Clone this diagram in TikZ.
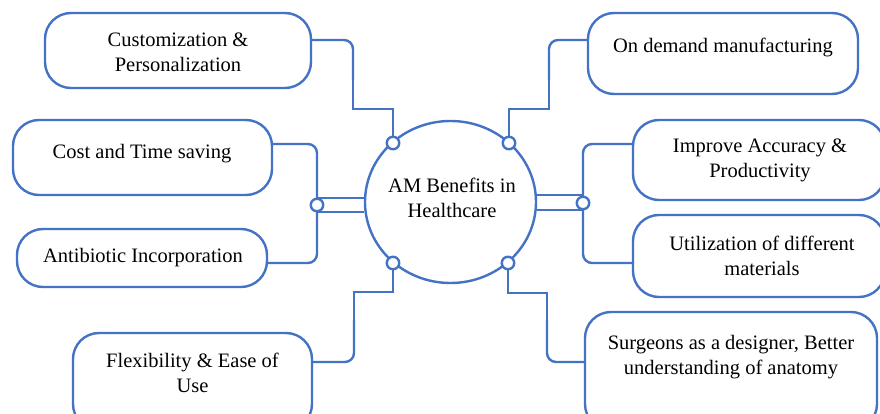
\documentclass[tikz,border=0pt]{standalone}
\usepackage{fontspec}
\setmainfont{Liberation Serif}
\usetikzlibrary{shapes.geometric}
\definecolor{amblue}{HTML}{4472C4}
\begin{document}
\begin{tikzpicture}[x=1pt,y=-1pt,
  line/.style={draw=amblue,line width=2.4pt},
  boxnode/.style={draw=amblue,line width=2.4pt,rounded corners=26pt,fill=white,inner sep=0pt},
  txt/.style={font=\fontsize{20.5}{25}\selectfont,align=center,inner sep=0pt,text=black,yshift=-2.5pt},
  dot/.style={circle,draw=amblue,line width=2.4pt,fill=white,minimum size=12.5pt,inner sep=0pt},
  conn/.style={draw=amblue,line width=2.4pt,rounded corners=9pt}]
\useasboundingbox (0,0) rectangle (880,414);
\clip (0,0) rectangle (880,414);
\fill[white] (0,0) rectangle (880,414);

% boxes
\node[boxnode,minimum width=266pt,minimum height=75pt] (b1) at (178,50.5) {};
\node[boxnode,minimum width=259pt,minimum height=75pt] (b2) at (142.5,157.5) {};
\node[boxnode,minimum width=250pt,minimum height=58pt] (b3) at (142,258) {};
\node[boxnode,minimum width=239pt,minimum height=97pt] (b4) at (192.5,381.5) {};
\node[boxnode,minimum width=270pt,minimum height=81pt] (b5) at (723,53.5) {};
\node[boxnode,minimum width=252pt,minimum height=80pt] (b6) at (759,160) {};
\node[boxnode,minimum width=252pt,minimum height=82pt] (b7) at (759,256) {};
\node[boxnode,minimum width=292pt,minimum height=118pt] (b8) at (731,371) {};

% texts
\node[txt] (t1) at (178,49.5) {Customization \&\\Personalization};
\node[txt] (t2) at (142,151) {Cost and Time saving};
\node[txt] (t3) at (143,255) {Antibiotic Incorporation};
\node[txt] (t4) at (192.5,370.5) {Flexibility \& Ease of\\Use};
\node[txt] (t5) at (723,45) {On demand manufacturing};
\node[txt] (t6) at (760,157.5) {Improve Accuracy \&\\Productivity};
\node[txt] (t7) at (762,253.5) {Utilization of different\\materials};
\node[txt] (t8) at (731,354.5) {Surgeons as a designer, Better\\understanding of anatomy};

% central ellipse
\node[ellipse,draw=amblue,line width=2.4pt,minimum width=171pt,minimum height=162pt,inner sep=0pt] (c) at (450.5,202) {};
\node[txt] (ct) at (452,195.5) {AM Benefits in\\Healthcare};

% bars
\coordinate (lt) at (317,198);
\coordinate (lb) at (317,212);
\coordinate (rt) at (583,195);
\coordinate (rb) at (583,210);
\draw[line] (lt) -- (c.west |- lt);
\draw[line] (lb) -- (c.west |- lb);
\draw[line] (rt) -- (c.east |- rt);
\draw[line] (rb) -- (c.east |- rb);

% connectors
\coordinate (s1p) at (393,143);
\coordinate (s2p) at (393,263);
\coordinate (s3p) at (317,205);
\coordinate (s5p) at (509,143);
\coordinate (s6p) at (583,203);
\coordinate (s7p) at (508,263);
\draw[conn] (b1.east |- 0,40) -- (353,40) -- (353,80);
\draw[line] (353,78) -- (353,109) -- (393,109) -- (s1p);
\draw[conn] (b2.east |- 0,144) -- (317,144) -- (s3p);
\draw[conn] (b3.east |- 0,263) -- (317,263) -- (s3p);
\draw[conn] (b4.east |- 0,362) -- (354,362) -- (354,320);
\draw[line] (354,322) -- (354,292) -- (393,292) -- (s2p);
\draw[conn] (b5.west |- 0,40) -- (549,40) -- (549,80);
\draw[line] (549,78) -- (549,109) -- (509,109) -- (s5p);
\draw[conn] (b6.west |- 0,144) -- (583,144) -- (s6p);
\draw[conn] (b7.west |- 0,263) -- (583,263) -- (s6p);
\draw[conn] (b8.west |- 0,362) -- (547,362) -- (547,320);
\draw[line] (547,322) -- (547,293) -- (508,293) -- (s7p);

% small circles
\node[dot] (s1) at (s1p) {};
\node[dot] (s2) at (s2p) {};
\node[dot] (s3) at (s3p) {};
\node[dot] (s5) at (s5p) {};
\node[dot] (s6) at (s6p) {};
\node[dot] (s7) at (s7p) {};
\end{tikzpicture}
\end{document}
